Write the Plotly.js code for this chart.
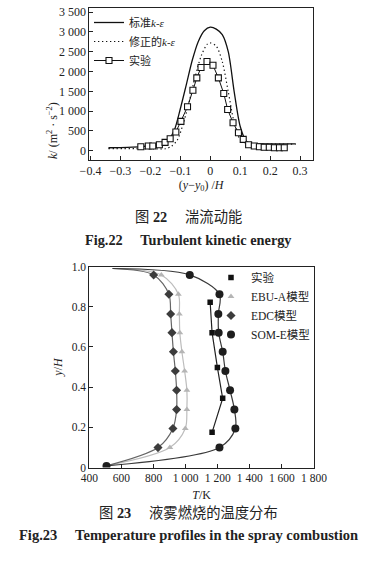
<!DOCTYPE html>
<html><head><meta charset="utf-8">
<script src="https://cdn.plot.ly/plotly-3.0.1.min.js"></script>
<style>html,body{margin:0;padding:0;background:#fff;}#chart{width:380px;height:568px;}</style>
</head><body><div id="chart"></div>
<script>
// ---------- Fig.22 data: turbulent kinetic energy ----------
const expX = [-0.232,-0.207,-0.192,-0.170,-0.151,-0.134,-0.115,-0.098,-0.076,-0.058,-0.045,-0.031,-0.011,0.009,0.027,0.045,0.058,0.076,0.094,0.110,0.128,0.147,0.164,0.180,0.197,0.214,0.231,0.247];
const expK = [100,118,118,151,211,302,471,740,1108,1528,1838,2100,2251,2158,1838,1445,1042,705,453,287,151,118,100,86,86,76,76,76];
const stdX = [-0.34,-0.30,-0.26,-0.22,-0.19,-0.16,-0.14,-0.12,-0.10,-0.08,-0.06,-0.04,-0.02,0,0.02,0.04,0.06,0.08,0.10,0.12,0.14,0.17,0.22,0.285];
const stdK = [75,80,90,110,140,190,270,520,1060,1670,2290,2760,3030,3120,3070,2930,2500,1480,610,240,175,170,170,170];
const modX = [-0.34,-0.25,-0.18,-0.15,-0.13,-0.11,-0.09,-0.07,-0.05,-0.03,-0.01,0,0.02,0.04,0.06,0.08,0.10,0.12,0.14,0.20,0.285];
const modK = [55,50,45,50,110,270,690,1250,1880,2400,2690,2720,2640,2250,1490,700,280,180,168,165,165];
const names22 = ['标准<i>k</i>-<i>ε</i>', '修正的<i>k</i>-<i>ε</i>', '实验'];
const xTicks22 = [-0.4,-0.3,-0.2,-0.1,0,0.1,0.2,0.3];

// ---------- Fig.23 data: temperature profiles ----------
const expY = [0.822,0.671,0.498,0.344,0.175];
const expT = [1153,1165,1198,1231,1165];
const modelY = [0.958,0.862,0.764,0.671,0.576,0.480,0.384,0.288,0.194,0.099];
const ebuT = [849,955,961,964,977,994,1008,1008,998,902];
const edcT = [801,896,907,915,924,936,944,944,921,828];
const somT = [1026,1211,1204,1206,1231,1248,1277,1304,1310,1211];
const inletTop = {T: 545, y: 0.99};      // common start of the model curves
const inletBottom = {T: 507, y: 0.008};  // common end of the model curves (SOM-E point)
const names23 = ['实验','EBU-A模型','EDC模型','SOM-E模型'];
const yTickVals23 = [0,0.2,0.4,0.6,0.8,1.0];
const yTickText23 = ['0','0.2','0.4','0.6','0.8','1.0'];

const SERIF = 'Liberation Serif, Noto Sans CJK SC, serif';
const traces = [];

// Fig.22 traces
traces.push({x: stdX, y: stdK, xaxis:'x', yaxis:'y', mode:'lines', name: names22[0],
  line:{color:'#111', width:1.3, shape:'spline', smoothing:0.8}, legend:'legend'});
traces.push({x: modX, y: modK, xaxis:'x', yaxis:'y', mode:'lines', name: names22[1],
  line:{color:'#111', width:1.2, dash:'1.3px,2.7px', shape:'spline', smoothing:0.8}, legend:'legend'});
traces.push({x: expX, y: expK, xaxis:'x', yaxis:'y', mode:'lines+markers', name: names22[2],
  line:{color:'#111', width:1}, marker:{symbol:'square', size:6, color:'#fff', line:{color:'#111', width:1.1}}, legend:'legend'});

// Fig.23 model curves (lines), then markers
function curve(T) { return {T: [inletTop.T].concat(T, [inletBottom.T]), y: [inletTop.y].concat(modelY, [inletBottom.y])}; }
const cEBU = curve(ebuT), cEDC = curve(edcT), cSOM = curve(somT);
traces.push({x: cEBU.T, y: cEBU.y, xaxis:'x2', yaxis:'y2', mode:'lines', showlegend:false, hoverinfo:'skip',
  line:{color:'#bdbdbd', width:1.2, shape:'spline', smoothing:0.9}});
traces.push({x: cEDC.T, y: cEDC.y, xaxis:'x2', yaxis:'y2', mode:'lines', showlegend:false, hoverinfo:'skip',
  line:{color:'#666', width:1.2, shape:'spline', smoothing:0.9}});
traces.push({x: cSOM.T, y: cSOM.y, xaxis:'x2', yaxis:'y2', mode:'lines', showlegend:false, hoverinfo:'skip',
  line:{color:'#3a3a3a', width:1.2, shape:'spline', smoothing:0.9}});
traces.push({x: expT, y: expY, xaxis:'x2', yaxis:'y2', mode:'lines', showlegend:false, hoverinfo:'skip',
  line:{color:'#222', width:1.2}});

traces.push({x: expT, y: expY, xaxis:'x2', yaxis:'y2', mode:'markers', name: names23[0], legend:'legend2',
  marker:{symbol:'square', size:5.5, color:'#111'}});
traces.push({x: ebuT, y: modelY, xaxis:'x2', yaxis:'y2', mode:'markers', name: names23[1], legend:'legend2',
  marker:{symbol:'triangle-up', size:6, color:'#b5b5b5'}});
traces.push({x: edcT, y: modelY, xaxis:'x2', yaxis:'y2', mode:'markers', name: names23[2], legend:'legend2',
  marker:{symbol:'diamond', size:7, color:'#3c3c3c'}});
traces.push({x: somT.concat([inletBottom.T]), y: modelY.concat([inletBottom.y]), xaxis:'x2', yaxis:'y2', mode:'markers', name: names23[3], legend:'legend2',
  marker:{symbol:'circle', size:8, color:'#1e1e1e'}});

const axisBase = {ticks:'inside', ticklen:4, tickwidth:1, tickcolor:'#222', showline:true, mirror:true,
  linecolor:'#222', linewidth:1, showgrid:false, zeroline:false, tickfont:{family:SERIF, size:12, color:'#222'}};

const H = 568, W = 380;
const py = v => 1 - v / H, px = v => v / W;

const layout = {
  width: W, height: H, margin:{l:0, r:0, t:0, b:0},
  paper_bgcolor:'#fff', plot_bgcolor:'#fff', separators:'. ',
  font:{family: SERIF, size:12, color:'#222'},
  xaxis: Object.assign({}, axisBase, {domain:[px(89.3), px(313)], range:[-0.404, 0.343], tickvals: xTicks22, anchor:'y',
    title:{text:'(<i>y</i>−<i>y</i><sub>0</sub>) /<i>H</i>', font:{family:SERIF, size:12}, standoff:2}}),
  yaxis: Object.assign({}, axisBase, {domain:[py(159.5), py(8)], range:[-222, 3603], dtick:500, tick0:0, tickformat:',', anchor:'x'}),
  xaxis2: Object.assign({}, axisBase, {domain:[px(89.3), px(314)], range:[400, 1800], dtick:200, tick0:400, tickformat:',', anchor:'y2',
    tickfont:{family:SERIF, size:11.5, color:'#222'},
    title:{text:'<i>T</i>/K', font:{family:SERIF, size:12}, standoff:7}}),
  yaxis2: Object.assign({}, axisBase, {domain:[py(467.5), py(266.5)], range:[0, 1], tickvals: yTickVals23, ticktext: yTickText23, anchor:'x2',
    tickfont:{family:SERIF, size:11.5, color:'#222'},
    title:{text:'<i>y</i>/<i>H</i>', font:{family:SERIF, size:12}, standoff:6}}),
  legend:{x: px(89), y: py(8), xanchor:'left', yanchor:'top', bgcolor:'rgba(0,0,0,0)', borderwidth:0,
    font:{family:SERIF, size:11, color:'#222'}},
  legend2:{x: px(211), y: py(263), xanchor:'left', yanchor:'top', bgcolor:'rgba(0,0,0,0)', borderwidth:0,
    font:{family:SERIF, size:11.5, color:'#222'}},
  annotations: [
    {xref:'paper', yref:'paper', x: px(43), y: py(100), text:'<i>k</i>/ (m<sup>2</sup> · s<sup>−2</sup>)', textangle:-90,
      showarrow:false, font:{family:SERIF, size:12, color:'#222'}},
    {xref:'paper', yref:'paper', x: px(188), y: py(216.7), text:'图 <b>22</b>\u3000 湍流动能', showarrow:false,
      font:{family:'Liberation Serif, Noto Sans CJK SC', size:14.3, color:'#222'}},
    {xref:'paper', yref:'paper', x: px(188), y: py(240), text:'<b>Fig.22\u2003 Turbulent kinetic energy</b>', showarrow:false,
      font:{family:SERIF, size:14.3, color:'#222'}},
    {xref:'paper', yref:'paper', x: px(188), y: py(523), text:'图 <b>23</b>\u3000 液雾燃烧的温度分布', showarrow:false,
      font:{family:'Liberation Serif, Noto Sans CJK SC', size:14.3, color:'#222'}},
    {xref:'paper', yref:'paper', x: px(188), y: py(545), text:'<b>Fig.23\u2003 Temperature profiles in the spray combustion</b>', showarrow:false,
      font:{family:SERIF, size:14.5, color:'#222'}}
  ]
};

Plotly.newPlot('chart', traces, layout, {staticPlot:true, displayModeBar:false});
</script>
</body></html>
